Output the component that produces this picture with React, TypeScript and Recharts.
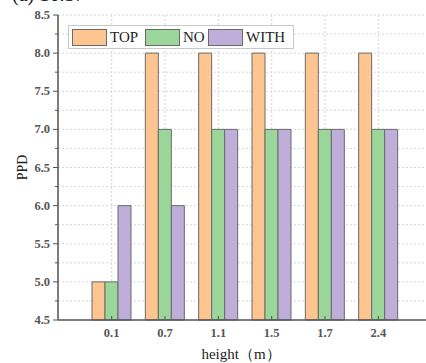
import React from 'react';
import { BarChart, Bar, XAxis, YAxis, CartesianGrid, Legend, Label } from 'recharts';

const heights = ['0.1', '0.7', '1.1', '1.5', '1.7', '2.4'];
const topVals = [5, 8, 8, 8, 8, 8];
const noVals = [5, 7, 7, 7, 7, 7];
const withVals = [6, 6, 7, 7, 7, 7];
const seriesNames = ['TOP', 'NO', 'WITH'];
const yTicks = [4.5, 4.75, 5, 5.25, 5.5, 5.75, 6, 6.25, 6.5, 6.75, 7, 7.25, 7.5, 7.75, 8, 8.25, 8.5];

const data = heights.map((h, i) => ({ h, TOP: topVals[i], NO: noVals[i], WITH: withVals[i] }));

const COLORS: Record<string, string> = { TOP: '#FFC590', NO: '#9BD69B', WITH: '#BFAED9' };
const STROKE = '#6a6a6a';
const AXIS = '#555';
const FONT = '"Liberation Serif", "DejaVu Serif", serif';

const YTick = (props: any) => {
  const { x, y, payload } = props;
  const v = payload.value as number;
  const major = Math.abs(v * 2 - Math.round(v * 2)) < 1e-6;
  return (
    <g>
      <line x1={x} x2={x - (major ? 5 : 3)} y1={y} y2={y} stroke={AXIS} strokeWidth={1} />
      {major && (
        <text x={x - 8} y={y} dy={4} textAnchor="end" fontSize={12.5} fontWeight="bold" fill="#555" fontFamily={FONT}>
          {v.toFixed(1)}
        </text>
      )}
    </g>
  );
};

const XTick = (props: any) => {
  const { x, y, payload } = props;
  return (
    <g>
      <line x1={x} x2={x} y1={y} y2={y - 4} stroke={AXIS} strokeWidth={1} />
      <text x={x} y={y + 17} textAnchor="middle" fontSize={12.5} fontWeight="bold" fill="#555" fontFamily={FONT}>
        {payload.value}
      </text>
    </g>
  );
};

const TopTick = (props: any) => {
  const { x, y } = props;
  return <line x1={x} x2={x} y1={y} y2={y + 4} stroke={AXIS} strokeWidth={1} />;
};

const LegendContent = () => {
  const widths: Record<string, number> = { TOP: 35, NO: 25, WITH: 44 };
  return (
    <div
      style={{
        display: 'flex',
        alignItems: 'center',
        border: '1px solid #c8c8c8',
        background: '#fff',
        padding: '1px 3px',
        height: 20,
        fontFamily: FONT,
        fontSize: 15,
        color: '#222',
      }}
    >
      {seriesNames.map((n) => (
        <div key={n} style={{ display: 'flex', alignItems: 'center' }}>
          <div style={{ width: 33, height: 15, background: COLORS[n], border: `1px solid ${STROKE}` }} />
          <div style={{ width: widths[n], paddingLeft: 3, lineHeight: '18px' }}>{n}</div>
        </div>
      ))}
    </div>
  );
};

export default function App() {
  return (
    <div style={{ position: 'absolute', left: 0, top: 0, width: 426, height: 363, overflow: 'hidden', background: '#fff' }}>
      <BarChart
        width={450}
        height={363}
        data={data}
        margin={{ top: 15, right: 18, left: 18, bottom: 0 }}
        barGap={0}
        barSize={13}
        style={{ position: 'absolute', left: 0, top: 0 }}
      >
        <CartesianGrid stroke="#d6d6d6" strokeDasharray="2 2" />
        <XAxis
          dataKey="h"
          height={43}
          padding={{ left: 27, right: 27 }}
          tickSize={0}
          tickMargin={0}
          tick={<XTick />}
          tickLine={false}
          axisLine={{ stroke: AXIS, strokeWidth: 1.5 }}
          interval={0}
        >
          <Label
            value="height（m）"
            position="insideBottom"
            offset={4}
            dx={-4}
            style={{ fontFamily: FONT, fontSize: 15, fill: '#222' }}
          />
        </XAxis>
        <XAxis
          xAxisId="top"
          dataKey="h"
          orientation="top"
          height={0}
          padding={{ left: 27, right: 27 }}
          tickSize={0}
          tickMargin={0}
          tick={<TopTick />}
          tickLine={false}
          axisLine={{ stroke: AXIS, strokeWidth: 1.5 }}
          interval={0}
        />
        <YAxis
          width={40}
          domain={[4.5, 8.5]}
          ticks={yTicks}
          interval={0}
          tickSize={0}
          tickMargin={0}
          tick={<YTick />}
          tickLine={false}
          axisLine={{ stroke: AXIS, strokeWidth: 1.5 }}
        >
          <Label
            content={(p: any) => {
              const vb = p.viewBox;
              const cx = vb.x + 4;
              const cy = vb.y + vb.height / 2;
              return (
                <text x={cx} y={cy} transform={`rotate(-90 ${cx} ${cy})`} textAnchor="middle" dy={5} fontSize={14} fontFamily={FONT} fill="#222">
                  PPD
                </text>
              );
            }}
          />
        </YAxis>
        <Legend
          verticalAlign="middle"
          align="center"
          layout="horizontal"
          content={<LegendContent />}
          wrapperStyle={{ position: 'absolute', left: 68, top: 25, width: 'auto', height: 'auto' }}
        />
        <Bar dataKey="TOP" fill={COLORS.TOP} stroke={STROKE} strokeWidth={1} isAnimationActive={false} />
        <Bar dataKey="NO" fill={COLORS.NO} stroke={STROKE} strokeWidth={1} isAnimationActive={false} />
        <Bar dataKey="WITH" fill={COLORS.WITH} stroke={STROKE} strokeWidth={1} isAnimationActive={false} />
      </BarChart>
      <svg width={200} height={20} style={{ position: 'absolute', left: 0, top: 0 }}>
        <text x={12} y={1} fontSize={20} fontFamily={FONT} fill="#111">(a) 16:37</text>
      </svg>
    </div>
  );
}
